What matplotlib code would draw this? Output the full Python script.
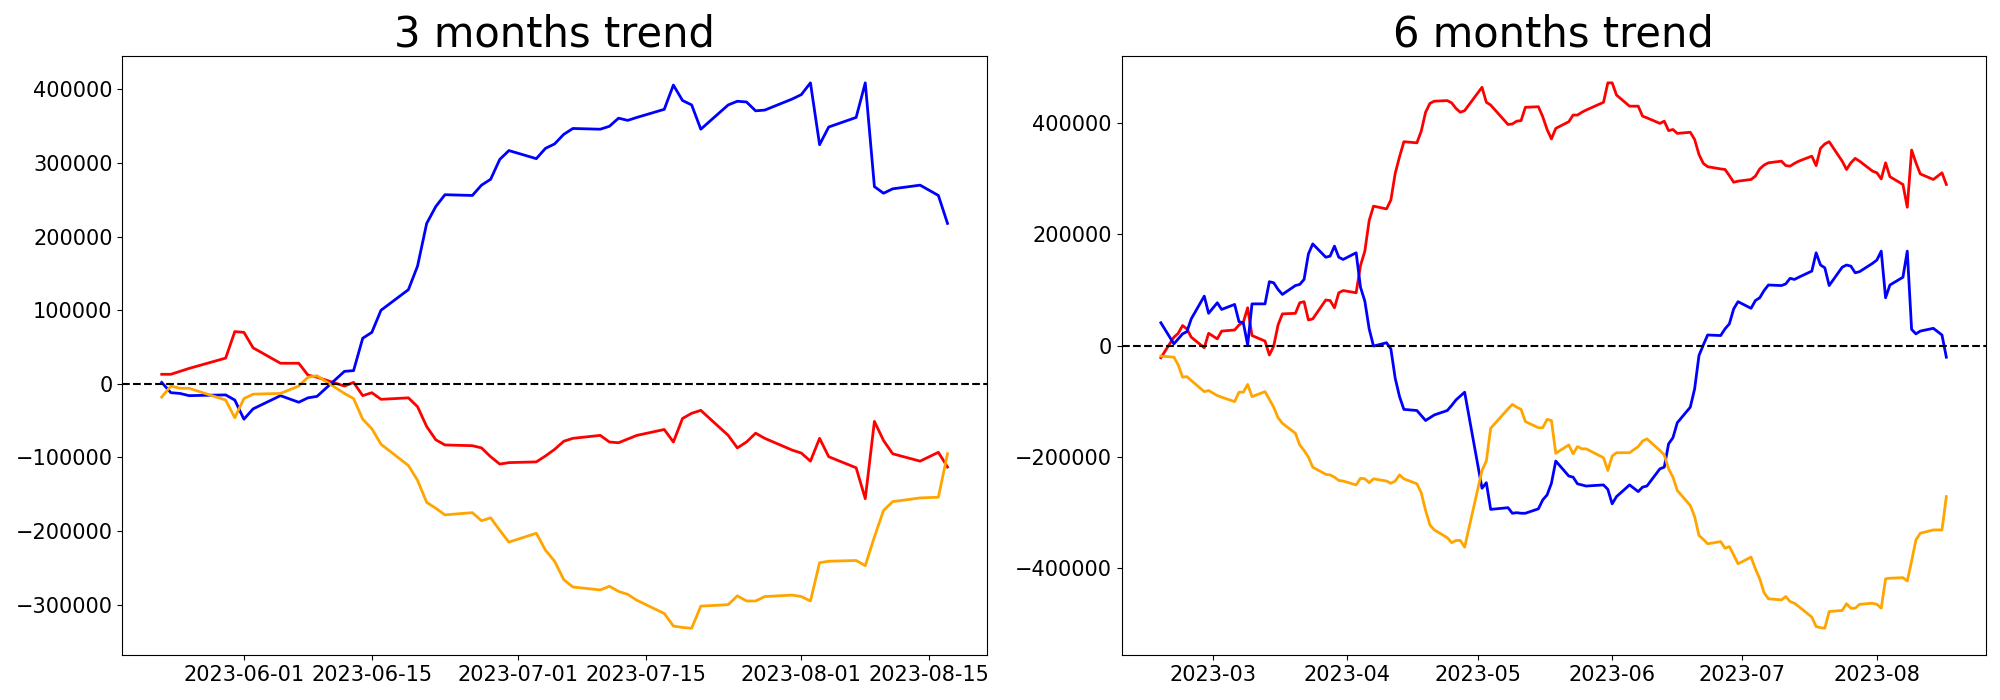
import pandas as pd
import matplotlib
matplotlib.use("Agg")
import matplotlib.pyplot as plt

# =========================
# DATA (trading days, KRX holidays skipped)
# =========================
HOLIDAYS = ["2023-03-01", "2023-05-01", "2023-05-05",
            "2023-05-29", "2023-06-06", "2023-08-15"]

dates_3m = pd.bdate_range("2023-05-23", "2023-08-17", freq="C", holidays=HOLIDAYS)
dates_6m = pd.bdate_range("2023-02-17", "2023-08-17", freq="C", holidays=HOLIDAYS)

# 3 months
red_3m = [
    13000, 13000, 17000, 21000, 35000, 71000,
    70000, 49000, 28000, 28000, 12000, 9000, -3000, 2000, -16000, -12000,
    -21000, -19000, -31000, -58000, -76000, -83000, -84000, -87000, -99000,
    -109000, -107000,
    -106000, -98000, -89000, -78000, -74000, -70000, -79000, -80000, -75000,
    -70000, -62000, -79000, -47000, -40000, -36000, -70000, -87000, -79000,
    -67000, -74000, -90000,
    -94000, -105000, -74000, -99000, -114000, -156000, -51000, -77000, -95000,
    -105000, -93000, -113000,
]
blue_3m = [
    2000, -12000, -13000, -16000, -15000, -22000,
    -48000, -34000, -16000, -25000, -19000, -17000, 17000, 18000, 62000, 70000,
    100000, 128000, 160000, 218000, 241000, 257000, 256000, 270000, 278000,
    305000, 317000,
    306000, 320000, 326000, 339000, 347000, 346000, 350000, 361000, 358000,
    362000, 373000, 406000, 385000, 379000, 346000, 379000, 384000, 383000,
    371000, 372000, 387000,
    393000, 409000, 325000, 349000, 362000, 409000, 268000, 259000, 265000,
    270000, 256000, 218000,
]
orange_3m = [
    -18000, -3000, -6000, -6000, -22000, -46000,
    -20000, -14000, -13000, -3000, 9000, 11000, -13000, -20000, -48000, -61000,
    -82000, -111000, -131000, -161000, -169000, -178000, -175000, -186000,
    -182000, -199000, -215000,
    -203000, -226000, -241000, -266000, -276000, -280000, -275000, -282000,
    -286000, -294000, -312000, -329000, -331000, -332000, -302000, -300000,
    -288000, -295000, -295000, -289000, -287000,
    -289000, -295000, -243000, -241000, -240000, -247000, -208000, -172000,
    -160000, -155000, -154000, -95000,
]

# 6 months
red_6m = [
    -22000, 15000, 22000, 36000, 30000, 15000, -4000, 22000,
    12000, 26000, 28000, 37000, 42000, 68000, 18000, 8000, -17000, -1000,
    37000, 57000, 58000, 77000, 79000, 46000, 48000, 82000, 81000, 68000,
    95000, 99000,
    95000, 144000, 170000, 225000, 251000, 246000, 262000, 310000, 340000,
    367000, 365000, 386000, 420000, 436000, 440000, 441000, 437000, 427000,
    420000, 423000,
    465000, 438000, 433000, 398000, 399000, 404000, 405000, 429000, 430000,
    412000, 389000, 372000, 391000, 403000, 415000, 415000, 420000, 424000,
    438000, 473000,
    473000, 451000, 431000, 431000, 413000, 410000, 400000, 404000, 387000,
    389000, 382000, 384000, 371000, 344000, 328000, 322000, 318000, 317000,
    306000, 294000, 296000,
    299000, 305000, 318000, 325000, 329000, 332000, 324000, 323000, 328000,
    332000, 341000, 324000, 355000, 363000, 367000, 332000, 317000, 329000,
    337000, 332000, 314000,
    311000, 300000, 329000, 304000, 290000, 249000, 352000, 329000, 309000,
    299000, 311000, 290000,
]
blue_6m = [
    41000, 3000, 12000, 21000, 25000, 48000, 89000, 58000,
    77000, 65000, 74000, 43000, 41000, 1000, 75000, 75000, 115000, 113000,
    101000, 92000, 108000, 110000, 119000, 165000, 183000, 159000, 161000,
    179000, 159000, 155000,
    167000, 105000, 80000, 30000, -1000, 5000, -6000, -59000, -92000,
    -115000, -117000, -126000, -135000, -130000, -125000, -117000, -108000,
    -98000, -91000, -84000,
    -257000, -247000, -295000, -292000, -302000, -301000, -302000, -302000,
    -294000, -278000, -269000, -248000, -208000, -235000, -237000, -249000,
    -251000, -253000, -251000, -259000,
    -285000, -272000, -251000, -263000, -255000, -253000, -222000, -219000,
    -177000, -166000, -139000, -111000, -78000, -18000, 1000, 19000, 18000,
    30000, 39000, 66000, 79000,
    67000, 81000, 86000, 99000, 109000, 108000, 111000, 121000, 119000,
    123000, 134000, 167000, 145000, 140000, 108000, 141000, 145000, 143000,
    131000, 133000, 148000,
    154000, 170000, 86000, 109000, 123000, 170000, 29000, 21000, 26000,
    31000, 19000, -21000,
]
orange_6m = [
    -19000, -21000, -35000, -57000, -56000, -63000, -83000, -81000,
    -90000, -93000, -101000, -84000, -84000, -70000, -92000, -83000, -97000,
    -111000, -130000, -140000, -158000, -179000, -189000, -201000, -219000,
    -232000, -233000, -237000, -243000, -244000,
    -251000, -239000, -240000, -247000, -240000, -244000, -248000, -244000,
    -233000, -240000, -249000, -265000, -297000, -323000, -332000, -346000,
    -355000, -351000, -351000, -363000,
    -225000, -208000, -149000, -114000, -106000, -111000, -115000, -137000,
    -148000, -148000, -133000, -135000, -194000, -179000, -195000, -182000,
    -186000, -186000, -202000, -225000,
    -199000, -193000, -193000, -182000, -172000, -168000, -189000, -197000,
    -222000, -237000, -261000, -288000, -308000, -342000, -349000, -357000,
    -353000, -365000, -362000, -377000, -393000,
    -381000, -402000, -420000, -445000, -456000, -458000, -452000, -461000,
    -464000, -470000, -489000, -506000, -508000, -509000, -479000, -477000,
    -465000, -473000, -473000, -466000, -464000,
    -466000, -473000, -420000, -419000, -418000, -424000, -388000, -350000,
    -338000, -332000, -332000, -272000,
]

TITLES = ["3 months trend", "6 months trend"]

# =========================
# PLOT
# =========================
fig = plt.figure(figsize=(20, 7), dpi=100)
ax1 = fig.add_axes([0.0612, 0.0636, 0.4322, 0.857])
ax2 = fig.add_axes([0.5608, 0.0636, 0.4320, 0.857])

panels = [
    (ax1, dates_3m, red_3m, blue_3m, orange_3m, TITLES[0]),
    (ax2, dates_6m, red_6m, blue_6m, orange_6m, TITLES[1]),
]

for ax, d, r, b, o, title in panels:
    ax.plot(d, r, color="red", linewidth=2)
    ax.plot(d, b, color="blue", linewidth=2)
    ax.plot(d, o, color="orange", linewidth=2)
    ax.axhline(0, color="black", linestyle="--", linewidth=1.5)
    ax.set_title(title, fontsize=30)
    ax.tick_params(labelsize=15)

fig.savefig("out.png", dpi=100)
